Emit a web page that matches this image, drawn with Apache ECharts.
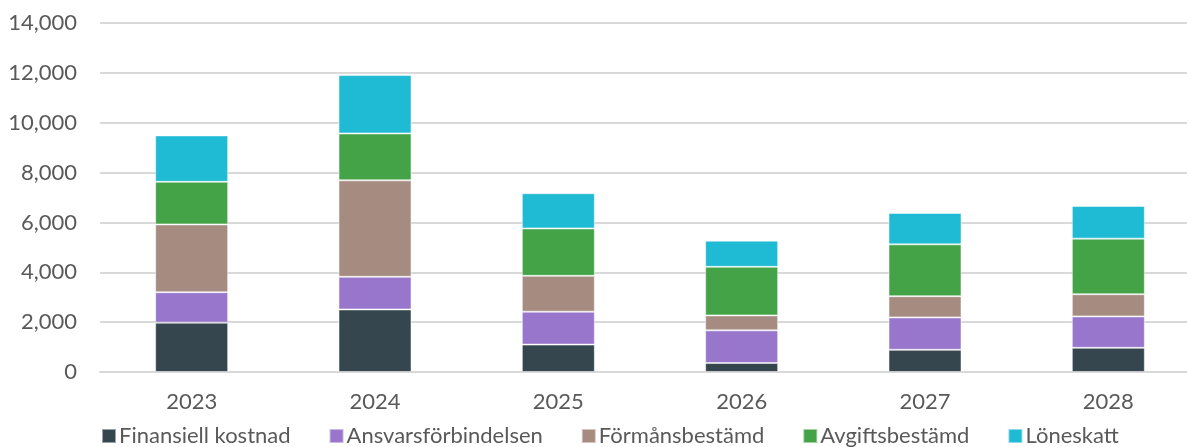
<!DOCTYPE html>
<html>
<head>
<meta charset="utf-8">
<script src="https://cdn.jsdelivr.net/npm/echarts@6/dist/echarts.min.js"></script>
<style>
  html, body { margin: 0; padding: 0; background: #fff; overflow: hidden; }
  #chart { width: 1200px; height: 447px; }
</style>
</head>
<body>
<div id="chart"></div>
<script>
const years = ['2023', '2024', '2025', '2026', '2027', '2028']
const seriesNames = ['Finansiell kostnad', 'Ansvarsförbindelsen', 'Förmånsbestämd', 'Avgiftsbestämd', 'Löneskatt']
const colors = ['#36464f', '#9776cc', '#a58b80', '#44a347', '#1fbad3']

const finansiell = [1980, 2510, 1100, 360, 890, 970]
const ansvar = [1220, 1310, 1320, 1310, 1300, 1260]
const formans = [2720, 3870, 1440, 600, 850, 890]
const avgift = [1710, 1880, 1900, 1950, 2080, 2230]
const loneskatt = [1860, 2340, 1410, 1050, 1260, 1310]

const values = [finansiell, ansvar, formans, avgift, loneskatt]
const font = 'Lato, "Open Sans", sans-serif'

// the source chart is clipped on the right, so the plot runs past the window edge
const chart = echarts.init(document.getElementById('chart'))
chart.setOption({
  animation: false,
  color: colors,
  grid: { left: 100, top: 23, right: 0, height: 349, containLabel: false },
  legend: {
    left: 96,
    top: 420,
    itemWidth: 14,
    itemHeight: 14,
    itemGap: 38,
    icon: 'rect',
    textStyle: { fontFamily: font, fontSize: 22, color: '#595959', padding: [0, 0, 0, -2] },
    data: seriesNames
  },
  xAxis: {
    type: 'category',
    data: years,
    axisLine: { lineStyle: { color: '#d9d9d9', width: 2 } },
    axisTick: { show: false },
    axisLabel: { fontFamily: font, fontSize: 22, color: '#595959', margin: 19 }
  },
  yAxis: {
    type: 'value',
    min: 0,
    max: 14000,
    interval: 2000,
    axisLine: { show: false },
    axisTick: { show: false },
    splitLine: { lineStyle: { color: '#d9d9d9', width: 2 } },
    axisLabel: {
      fontFamily: font, fontSize: 22, color: '#595959', margin: 23,
      formatter: v => v.toLocaleString('en-US')
    }
  },
  series: seriesNames.map((name, i) => ({
    name: name,
    type: 'bar',
    stack: 'total',
    barWidth: 73,
    data: values[i],
    itemStyle: { borderColor: 'rgba(255,255,255,0.5)', borderWidth: 1 }
  }))
})
</script>
</body>
</html>
